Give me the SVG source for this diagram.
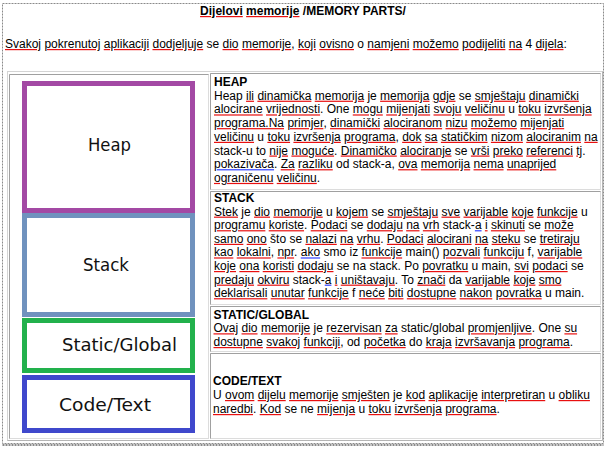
<svg xmlns="http://www.w3.org/2000/svg" width="606" height="449" viewBox="0 0 606 449">
<style>
.t{font-family:"Liberation Sans",Arial,sans-serif;font-size:12px;fill:#000}
.bd{font-weight:bold}
.r{text-decoration:underline;fill:#e81010}
.bl{text-decoration:underline;fill:#3040ff}
.r tspan,.bl tspan{fill:#000;text-decoration:none}
.lbl{font-family:"DejaVu Sans",Verdana,sans-serif;font-size:18.4px;fill:#111}
.cell{fill:#fff;stroke:#dcdcdc;stroke-width:1}
.cellTL{fill:none;stroke:#a0a0a0;stroke-width:1}
.box{fill:#fff;stroke-width:5}
</style>
<rect x="0" y="0" width="606" height="449" fill="#fff"/>
<rect x="2.5" y="3.5" width="601" height="440" fill="none" stroke="#8a8a8a" stroke-dasharray="2 1"/>
<line x1="2.5" y1="445" x2="603.5" y2="445" stroke="#8a8a8a" stroke-dasharray="2 1" stroke-width="2"/>

<g id="title">
<text class="t bd" x="303" y="15" text-anchor="middle"><tspan class="r"><tspan>Dijelovi</tspan></tspan> <tspan class="r"><tspan>memorije</tspan></tspan> /MEMORY PARTS/</text>
</g>
<g id="intro">
<text class="t" x="5" y="48"><tspan class="r"><tspan>Svakoj</tspan></tspan> <tspan class="r"><tspan>pokrenutoj</tspan></tspan> <tspan class="r"><tspan>aplikaciji</tspan></tspan> <tspan class="r"><tspan>dodjeljuje</tspan></tspan> se <tspan class="r"><tspan>dio</tspan></tspan> <tspan class="r"><tspan>memorije</tspan></tspan>, <tspan class="r"><tspan>koji</tspan></tspan> <tspan class="r"><tspan>ovisno</tspan></tspan> o <tspan class="r"><tspan>namjeni</tspan></tspan> <tspan class="r"><tspan>možemo</tspan></tspan> <tspan class="r"><tspan>podijeliti</tspan></tspan> <tspan class="r"><tspan>na</tspan></tspan> 4 <tspan class="r"><tspan>dijela</tspan></tspan>:</text>
</g>

<g id="table">
<rect x="7.5" y="71.5" width="595" height="369" fill="#fff" stroke="#d4d4d4"/>
<path d="M602.5 71.5V440.5H7.5" fill="none" stroke="#b4b4b4"/>
</g>

<g id="image-cell">
<rect class="cell" x="9.5" y="74.5" width="199" height="364"/>
<path class="cellTL" d="M9.5 438.5V74.5H208.5"/>
</g>

<g id="heap-box">
<rect class="box" x="24.5" y="83.5" width="168" height="127" stroke="#a349a4"/>
<text class="lbl" x="88" y="150.7" textLength="43" lengthAdjust="spacingAndGlyphs">Heap</text>
</g>
<g id="stack-box">
<rect class="box" x="24.5" y="215.5" width="168" height="99" stroke="#7092be"/>
<text class="lbl" x="83" y="270.7" textLength="46" lengthAdjust="spacingAndGlyphs">Stack</text>
</g>
<g id="static-box">
<rect class="box" x="24.5" y="320.5" width="168" height="50" stroke="#22b14c"/>
<text class="lbl" x="62" y="350.7" textLength="115" lengthAdjust="spacingAndGlyphs">Static/Global</text>
</g>
<g id="code-box">
<rect class="box" x="24.5" y="377.5" width="168" height="53" stroke="#3f48cc"/>
<text class="lbl" x="59" y="411" textLength="92" lengthAdjust="spacingAndGlyphs">Code/Text</text>
</g>

<g id="heap-cell">
<rect class="cell" x="210.5" y="73.5" width="390" height="116"/>
<path class="cellTL" d="M210.5 189.5V73.5H600.5"/>
<text class="t bd" x="214" y="86">HEAP</text>
<text class="t" x="214" y="99.7">Heap <tspan class="r"><tspan>ili</tspan></tspan> <tspan class="r"><tspan>dinamička</tspan></tspan> <tspan class="r"><tspan>memorija</tspan></tspan> je <tspan class="r"><tspan>memorija</tspan></tspan> <tspan class="r"><tspan>gdje</tspan></tspan> se <tspan class="r"><tspan>smještaju</tspan></tspan> <tspan class="r"><tspan>dinamički</tspan></tspan></text>
<text class="t" x="214" y="113.4"><tspan class="r"><tspan>alocirane</tspan></tspan> <tspan class="r"><tspan>vrijednosti</tspan></tspan>. One <tspan class="r"><tspan>mogu</tspan></tspan> <tspan class="r"><tspan>mijenjati</tspan></tspan> <tspan class="r"><tspan>svoju</tspan></tspan> <tspan class="r"><tspan>veličinu</tspan></tspan> u <tspan class="r"><tspan>toku</tspan></tspan> <tspan class="r"><tspan>izvršenja</tspan></tspan></text>
<text class="t" x="214" y="127.1"><tspan class="r"><tspan>programa.Na</tspan></tspan> <tspan class="r"><tspan>primjer</tspan></tspan>, <tspan class="r"><tspan>dinamički</tspan></tspan> <tspan class="r"><tspan>alociranom</tspan></tspan> <tspan class="r"><tspan>nizu</tspan></tspan> <tspan class="r"><tspan>možemo</tspan></tspan> <tspan class="r"><tspan>mijenjati</tspan></tspan></text>
<text class="t" x="214" y="140.8"><tspan class="r"><tspan>veličinu</tspan></tspan> u <tspan class="r"><tspan>toku</tspan></tspan> <tspan class="r"><tspan>izvršenja</tspan></tspan> <tspan class="r"><tspan>programa</tspan></tspan>, <tspan class="r"><tspan>dok</tspan></tspan> <tspan class="r"><tspan>sa</tspan></tspan> <tspan class="r"><tspan>statičkim</tspan></tspan> <tspan class="r"><tspan>nizom</tspan></tspan> <tspan class="r"><tspan>alociranim</tspan></tspan> <tspan class="r"><tspan>na</tspan></tspan></text>
<text class="t" x="214" y="154.5">stack-u to <tspan class="r"><tspan>nije</tspan></tspan> <tspan class="r"><tspan>moguće</tspan></tspan>. <tspan class="r"><tspan>Dinamičko</tspan></tspan> <tspan class="r"><tspan>alociranje</tspan></tspan> se <tspan class="r"><tspan>vrši</tspan></tspan> <tspan class="r"><tspan>preko</tspan></tspan> <tspan class="r"><tspan>referenci</tspan></tspan> <tspan class="r"><tspan>tj</tspan></tspan>.</text>
<text class="t" x="214" y="168.2"><tspan class="bl"><tspan>pokazivača</tspan></tspan>. <tspan class="r"><tspan>Za</tspan></tspan> <tspan class="r"><tspan>razliku</tspan></tspan> od stack-a, <tspan class="r"><tspan>ova</tspan></tspan> <tspan class="r"><tspan>memorija</tspan></tspan> <tspan class="r"><tspan>nema</tspan></tspan> <tspan class="r"><tspan>unaprijed</tspan></tspan></text>
<text class="t" x="214" y="181.9"><tspan class="r"><tspan>ograničenu</tspan></tspan> <tspan class="r"><tspan>veličinu</tspan></tspan>.</text>
</g>

<g id="stack-cell">
<rect class="cell" x="210.5" y="191.5" width="390" height="113"/>
<path class="cellTL" d="M210.5 304.5V191.5H600.5"/>
<text class="t bd" x="214" y="202">STACK</text>
<text class="t" x="214" y="215.6"><tspan class="r"><tspan>Stek</tspan></tspan> je <tspan class="r"><tspan>dio</tspan></tspan> <tspan class="r"><tspan>memorije</tspan></tspan> u <tspan class="r"><tspan>kojem</tspan></tspan> se <tspan class="r"><tspan>smještaju</tspan></tspan> <tspan class="r"><tspan>sve</tspan></tspan> <tspan class="r"><tspan>varijable</tspan></tspan> <tspan class="r"><tspan>koje</tspan></tspan> <tspan class="r"><tspan>funkcije</tspan></tspan> u</text>
<text class="t" x="214" y="229.2"><tspan class="r"><tspan>programu</tspan></tspan> <tspan class="r"><tspan>koriste</tspan></tspan>. <tspan class="r"><tspan>Podaci</tspan></tspan> se <tspan class="r"><tspan>dodaju</tspan></tspan> <tspan class="r"><tspan>na</tspan></tspan> <tspan class="r"><tspan>vrh</tspan></tspan> stack-<tspan class="bl"><tspan>a</tspan></tspan> <tspan class="r"><tspan>i</tspan></tspan> <tspan class="r"><tspan>skinuti</tspan></tspan> se <tspan class="r"><tspan>može</tspan></tspan></text>
<text class="t" x="214" y="242.8"><tspan class="r"><tspan>samo</tspan></tspan> <tspan class="r"><tspan>ono</tspan></tspan> što se <tspan class="r"><tspan>nalazi</tspan></tspan> <tspan class="r"><tspan>na</tspan></tspan> <tspan class="r"><tspan>vrhu</tspan></tspan>. <tspan class="r"><tspan>Podaci</tspan></tspan> <tspan class="r"><tspan>alocirani</tspan></tspan> <tspan class="r"><tspan>na</tspan></tspan> <tspan class="r"><tspan>steku</tspan></tspan> se <tspan class="r"><tspan>tretiraju</tspan></tspan></text>
<text class="t" x="214" y="256.4"><tspan class="r"><tspan>kao</tspan></tspan> <tspan class="r"><tspan>lokalni</tspan></tspan>, <tspan class="r"><tspan>npr</tspan></tspan>. <tspan class="bl"><tspan>ako</tspan></tspan> smo iz <tspan class="r"><tspan>funkcije</tspan></tspan> main() <tspan class="r"><tspan>pozvali</tspan></tspan> <tspan class="r"><tspan>funkciju</tspan></tspan> f, <tspan class="r"><tspan>varijable</tspan></tspan></text>
<text class="t" x="214" y="270"><tspan class="r"><tspan>koje</tspan></tspan> <tspan class="r"><tspan>ona</tspan></tspan> <tspan class="r"><tspan>koristi</tspan></tspan> <tspan class="r"><tspan>dodaju</tspan></tspan> se na stack. Po <tspan class="r"><tspan>povratku</tspan></tspan> u main, <tspan class="r"><tspan>svi</tspan></tspan> <tspan class="r"><tspan>podaci</tspan></tspan> se</text>
<text class="t" x="214" y="283.6"><tspan class="r"><tspan>predaju</tspan></tspan> <tspan class="r"><tspan>okviru</tspan></tspan> stack-<tspan class="bl"><tspan>a</tspan></tspan> <tspan class="r"><tspan>i</tspan></tspan> <tspan class="r"><tspan>uništavaju</tspan></tspan>. To <tspan class="r"><tspan>znači</tspan></tspan> da <tspan class="r"><tspan>varijable</tspan></tspan> <tspan class="r"><tspan>koje</tspan></tspan> <tspan class="r"><tspan>smo</tspan></tspan></text>
<text class="t" x="214" y="297.2"><tspan class="r"><tspan>deklarisali</tspan></tspan> <tspan class="r"><tspan>unutar</tspan></tspan> <tspan class="r"><tspan>funkcije</tspan></tspan> f <tspan class="r"><tspan>neće</tspan></tspan> <tspan class="r"><tspan>biti</tspan></tspan> <tspan class="r"><tspan>dostupne</tspan></tspan> <tspan class="r"><tspan>nakon</tspan></tspan> <tspan class="r"><tspan>povratka</tspan></tspan> u main.</text>
</g>

<g id="static-cell">
<rect class="cell" x="210.5" y="306.5" width="390" height="45"/>
<path class="cellTL" d="M210.5 351.5V306.5H600.5"/>
<text class="t bd" x="213.5" y="318.5">STATIC/GLOBAL</text>
<text class="t" x="213.5" y="332.3"><tspan class="r"><tspan>Ovaj</tspan></tspan> <tspan class="r"><tspan>dio</tspan></tspan> <tspan class="r"><tspan>memorije</tspan></tspan> je <tspan class="r"><tspan>rezervisan</tspan></tspan> <tspan class="r"><tspan>za</tspan></tspan> static/global <tspan class="r"><tspan>promjenljive</tspan></tspan>. One <tspan class="r"><tspan>su</tspan></tspan></text>
<text class="t" x="213.5" y="346"><tspan class="r"><tspan>dostupne</tspan></tspan> <tspan class="r"><tspan>svakoj</tspan></tspan> <tspan class="r"><tspan>funkciji</tspan></tspan>, od <tspan class="r"><tspan>početka</tspan></tspan> do <tspan class="r"><tspan>kraja</tspan></tspan> <tspan class="r"><tspan>izvršavanja</tspan></tspan> <tspan class="r"><tspan>programa</tspan></tspan>.</text>
</g>

<g id="code-cell">
<rect class="cell" x="210.5" y="353.5" width="390" height="85"/>
<path class="cellTL" d="M210.5 438.5V353.5H600.5"/>
<text class="t bd" x="213" y="385">CODE/TEXT</text>
<text class="t" x="213" y="399">U <tspan class="r"><tspan>ovom</tspan></tspan> <tspan class="r"><tspan>dijelu</tspan></tspan> <tspan class="r"><tspan>memorije</tspan></tspan> <tspan class="r"><tspan>smješten</tspan></tspan> je <tspan class="r"><tspan>kod</tspan></tspan> <tspan class="r"><tspan>aplikacije</tspan></tspan> <tspan class="r"><tspan>interpretiran</tspan></tspan> u <tspan class="r"><tspan>obliku</tspan></tspan></text>
<text class="t" x="213" y="413"><tspan class="r"><tspan>naredbi</tspan></tspan>. <tspan class="r"><tspan>Kod</tspan></tspan> se ne <tspan class="r"><tspan>mijenja</tspan></tspan> u <tspan class="r"><tspan>toku</tspan></tspan> <tspan class="r"><tspan>izvršenja</tspan></tspan> <tspan class="r"><tspan>programa</tspan></tspan>.</text>
</g>

<g id="connectors"/>
</svg>
